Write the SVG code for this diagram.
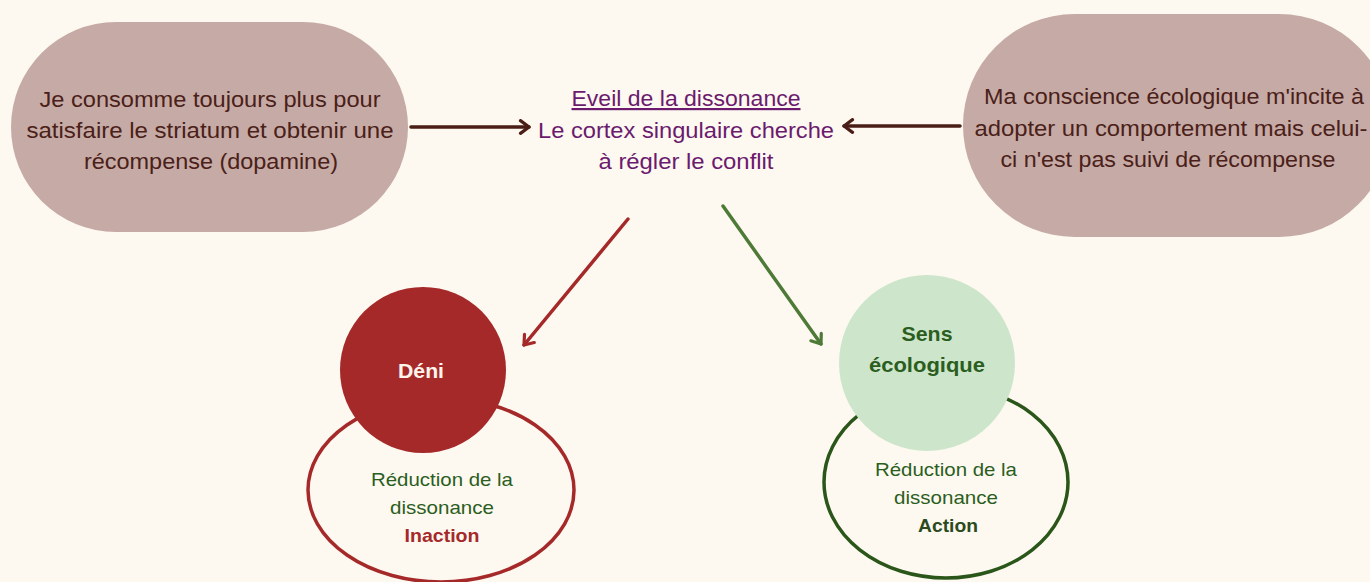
<svg xmlns="http://www.w3.org/2000/svg" width="1370" height="582" viewBox="0 0 1370 582">
<defs>
<style>
.bg{fill:#fdf9f0}
.pill{fill:#c6aaa5}
.pt{font-family:"Liberation Sans",Arial,sans-serif;font-size:22px;fill:#4a2018;text-anchor:middle}
.ct{font-family:"Liberation Sans",Arial,sans-serif;font-size:22px;fill:#6b1a6e;text-anchor:middle}
.ot{font-family:"Liberation Sans",Arial,sans-serif;font-size:19px;text-anchor:middle}
.bt{font-family:"Liberation Sans",Arial,sans-serif;font-size:21px;font-weight:bold;text-anchor:middle}
.conn{fill:none;stroke-width:3.5;stroke-linecap:round}
</style>
<marker id="mBrown" viewBox="0 0 12 16" refX="10" refY="8" markerWidth="13" markerHeight="17" markerUnits="userSpaceOnUse" orient="auto">
<path d="M2,2 L10,8 L2,14" fill="none" stroke="#4a1e16" stroke-width="3" stroke-linecap="round" stroke-linejoin="round"/>
</marker>
<marker id="mRed" viewBox="0 0 12 16" refX="10" refY="8" markerWidth="13" markerHeight="17" markerUnits="userSpaceOnUse" orient="auto">
<path d="M2,2 L10,8 L2,14" fill="none" stroke="#a6292a" stroke-width="3" stroke-linecap="round" stroke-linejoin="round"/>
</marker>
<marker id="mGreen" viewBox="0 0 12 16" refX="10" refY="8" markerWidth="13" markerHeight="17" markerUnits="userSpaceOnUse" orient="auto">
<path d="M2,2 L10,8 L2,14" fill="none" stroke="#4e7a38" stroke-width="3" stroke-linecap="round" stroke-linejoin="round"/>
</marker>
</defs>
<rect class="bg" x="0" y="0" width="1370" height="582"/>

<g id="node-consomme">
<rect class="pill" x="11" y="22" width="397" height="210" rx="105" ry="105"/>
<text class="pt" x="210" y="107" textLength="341" lengthAdjust="spacingAndGlyphs">Je consomme toujours plus pour</text>
<text class="pt" x="210" y="138" textLength="367" lengthAdjust="spacingAndGlyphs">satisfaire le striatum et obtenir une</text>
<text class="pt" x="211" y="169" textLength="254" lengthAdjust="spacingAndGlyphs">récompense (dopamine)</text>
</g>

<g id="node-eveil">
<text class="ct" x="686" y="106" textLength="229" lengthAdjust="spacingAndGlyphs" text-decoration="underline">Eveil de la dissonance</text>
<text class="ct" x="686" y="138" textLength="296" lengthAdjust="spacingAndGlyphs">Le cortex singulaire cherche</text>
<text class="ct" x="686" y="169" textLength="175" lengthAdjust="spacingAndGlyphs">à régler le conflit</text>
</g>

<g id="node-conscience">
<rect class="pill" x="963" y="14" width="428" height="223" rx="111.5" ry="111.5"/>
<text class="pt" x="1174" y="104" textLength="380" lengthAdjust="spacingAndGlyphs">Ma conscience écologique m'incite à</text>
<text class="pt" x="1171" y="136" textLength="393" lengthAdjust="spacingAndGlyphs">adopter un comportement mais celui-</text>
<text class="pt" x="1168" y="167" textLength="335" lengthAdjust="spacingAndGlyphs">ci n'est pas suivi de récompense</text>
</g>

<g id="node-inaction">
<ellipse cx="441" cy="490" rx="133" ry="92" fill="none" stroke="#a6292a" stroke-width="3.5"/>
<text class="ot" x="442" y="486" fill="#2b5e1e" textLength="142" lengthAdjust="spacingAndGlyphs">Réduction de la</text>
<text class="ot" x="442" y="514" fill="#2b5e1e" textLength="104" lengthAdjust="spacingAndGlyphs">dissonance</text>
<text class="ot" x="442" y="542" fill="#a6292a" font-weight="bold" textLength="75" lengthAdjust="spacingAndGlyphs">Inaction</text>
</g>

<g id="node-deni">
<circle cx="423" cy="370" r="83" fill="#a6292a"/>
<text class="bt" x="421" y="378" fill="#fdf4ec" textLength="46" lengthAdjust="spacingAndGlyphs">Déni</text>
</g>

<g id="node-action">
<ellipse cx="946" cy="482" rx="122" ry="96" fill="none" stroke="#2a561a" stroke-width="3.5"/>
<text class="ot" x="946" y="476" fill="#2b5e1e" textLength="142" lengthAdjust="spacingAndGlyphs">Réduction de la</text>
<text class="ot" x="946" y="504" fill="#2b5e1e" textLength="104" lengthAdjust="spacingAndGlyphs">dissonance</text>
<text class="ot" x="948" y="532" fill="#2b4a1e" font-weight="bold" textLength="60" lengthAdjust="spacingAndGlyphs">Action</text>
</g>

<g id="node-sens">
<circle cx="927" cy="363" r="88" fill="#cde6cb"/>
<text class="bt" x="927" y="341" fill="#2b5e1e" textLength="51" lengthAdjust="spacingAndGlyphs">Sens</text>
<text class="bt" x="927" y="372" fill="#2b5e1e" textLength="116" lengthAdjust="spacingAndGlyphs">écologique</text>
</g>

<g id="connectors">
<line class="conn" x1="411" y1="127" x2="529" y2="127" stroke="#4a1e16" marker-end="url(#mBrown)"/>
<line class="conn" x1="960" y1="126" x2="844" y2="126" stroke="#4a1e16" marker-end="url(#mBrown)"/>
<line class="conn" x1="628" y1="219" x2="524" y2="345" stroke="#a6292a" stroke-width="3" marker-end="url(#mRed)"/>
<line class="conn" x1="723" y1="206" x2="821" y2="344" stroke="#4e7a38" stroke-width="3" marker-end="url(#mGreen)"/>
</g>
</svg>
